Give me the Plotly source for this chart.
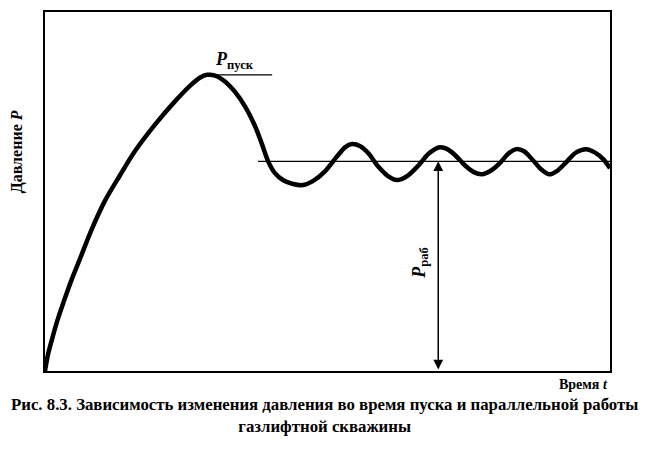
import plotly.graph_objects as go

# Time (arbitrary units, 0..10) and pressure (arbitrary units, 0..10)
time_t = [0.00, 0.05, 0.12, 0.21, 0.34, 0.48, 0.62, 0.83, 1.06, 1.33, 1.59, 1.95, 2.30,
          2.57, 2.74, 2.87, 3.01, 3.19, 3.36, 3.54, 3.72, 3.84, 3.95, 4.07, 4.21, 4.39,
          4.57, 4.74, 4.96, 5.17, 5.31, 5.43, 5.58, 5.72, 5.89, 6.07, 6.23, 6.41, 6.60,
          6.78, 6.90, 6.99, 7.12, 7.26, 7.43, 7.59, 7.73, 7.88, 8.05, 8.19, 8.34, 8.48,
          8.62, 8.78, 8.92, 9.06, 9.24, 9.40, 9.58, 9.73, 9.88, 10.0]
pressure = [0.00, 0.44, 0.86, 1.36, 1.97, 2.58, 3.13, 3.96, 4.74, 5.46, 6.12, 6.87, 7.51,
            7.95, 8.17, 8.25, 8.23, 8.06, 7.78, 7.37, 6.81, 6.32, 5.84, 5.51, 5.32, 5.21,
            5.18, 5.29, 5.57, 5.98, 6.23, 6.32, 6.26, 6.07, 5.71, 5.43, 5.32, 5.43, 5.71,
            6.04, 6.18, 6.23, 6.18, 6.01, 5.73, 5.54, 5.48, 5.57, 5.79, 6.04, 6.18, 6.12,
            5.90, 5.62, 5.48, 5.57, 5.84, 6.09, 6.18, 6.09, 5.90, 5.65]

p_start = 8.25          # P пуск level
p_start_t = [2.87, 4.02]
p_work = 5.84           # P раб level
p_work_t = [3.77, 10.0]
arrow_t = 6.96

FONT = "Times New Roman, Liberation Serif, serif"

fig = go.Figure()
fig.add_trace(go.Scatter(x=time_t, y=pressure, mode="lines",
                         line=dict(color="black", width=4.5, shape="spline", smoothing=0.8),
                         hoverinfo="skip", showlegend=False))
fig.add_trace(go.Scatter(x=p_start_t, y=[p_start, p_start], mode="lines",
                         line=dict(color="black", width=1.2), showlegend=False))
fig.add_trace(go.Scatter(x=p_work_t, y=[p_work, p_work], mode="lines",
                         line=dict(color="black", width=1.2), showlegend=False))

# double-headed arrow for P раб
fig.add_annotation(x=arrow_t, y=p_work, ax=arrow_t, ay=0, xref="x", yref="y",
                   axref="x", ayref="y", text="", showarrow=True,
                   arrowhead=2, startarrowhead=2, arrowside="end+start",
                   arrowwidth=1.5, arrowsize=1.3, startarrowsize=1.3, arrowcolor="black")

fig.add_annotation(x=arrow_t, y=p_work / 2 + 0.1, xref="x", yref="y", xshift=-18,
                   text="<b><i>P</i><sub>раб</sub></b>", textangle=-90, showarrow=False,
                   font=dict(family=FONT, size=18, color="black"))
fig.add_annotation(x=2.87, y=p_start, xref="x", yref="y", xanchor="left", yanchor="bottom",
                   xshift=6, yshift=1,
                   text="<b><i>P</i><sub>пуск</sub></b>", showarrow=False,
                   font=dict(family=FONT, size=18, color="black"))

fig.add_annotation(x=-0.049, y=0.61, xref="paper", yref="paper", xanchor="center", yanchor="middle",
                   text="<b>Давление <i>P</i></b>", textangle=-90, showarrow=False,
                   font=dict(family=FONT, size=16, color="black"))
fig.add_annotation(x=1.0, y=-0.012, xref="paper", yref="paper", xanchor="right", yanchor="top",
                   text="<b>Время <i>t</i></b>", showarrow=False,
                   font=dict(family=FONT, size=14, color="black"))
fig.add_annotation(x=0.5, y=0, xref="paper", yref="paper", xanchor="center", yanchor="top",
                   yshift=-22, xshift=-3,
                   text="<b>Рис. 8.3. Зависимость изменения давления во время пуска и параллельной работы</b><br><b>газлифтной скважины</b>",
                   showarrow=False, align="center",
                   font=dict(family=FONT, size=16.8, color="black"))

fig.update_xaxes(range=[0, 10], showline=True, mirror=True, linecolor="black", linewidth=1.5,
                 showgrid=False, zeroline=False, showticklabels=False, ticks="")
fig.update_yaxes(range=[0, 10], showline=True, mirror=True, linecolor="black", linewidth=1.5,
                 showgrid=False, zeroline=False, showticklabels=False, ticks="")
fig.update_layout(width=643, height=442, margin=dict(l=37, r=41, t=2, b=79),
                  plot_bgcolor="white", paper_bgcolor="white", showlegend=False,
                  font=dict(family=FONT))
fig.write_html("out.html")
